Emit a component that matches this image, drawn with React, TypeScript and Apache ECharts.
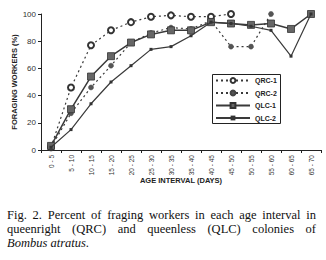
import React, { useEffect, useRef } from "react";
import * as echarts from "echarts";

const categories = ["0 - 5", "5 - 10", "10 - 15", "15 - 20", "20 - 25", "25 - 30", "30 - 35", "35 - 40", "40 - 45", "45 - 50", "50 - 55", "55 - 60", "60 - 65", "65 - 70"];
const qrc1 = [2, 46, 77, 88, 94, 98, 99, 98, 98, 100, null, null, null, null];
const qrc2 = [2, 27, 46, 62, 79, 86, 90, 89, 95, 76, 76, 100, null, null];
const qlc1 = [3, 30, 54, 69, 79, 85, 88, 88, 94, 93, 92, 93, 89, 100];
const qlc2 = [2, 15, 34, 50, 62, 74, 76, 84, 94, 93, 91, 88, 69, 100];
const yTicks = { min: 0, max: 100, interval: 20 };

const captionLine1 = "Fig. 2. Percent of fraging workers in each age interval in";
const captionLine2 = "queenright (QRC) and queenless (QLC) colonies of";
const captionItalic = "Bombus atratus";

const SANS = "'Liberation Sans', Arial, sans-serif";
const SERIF = "'Liberation Serif', 'Times New Roman', serif";
const CAPTION_FONT = `12.5px ${SERIF}`;

function justify(line: string, left: number, right: number, y: number) {
  const words = line.split(" ");
  const ctx = document.createElement("canvas").getContext("2d")!;
  ctx.font = CAPTION_FONT;
  const widths = words.map((w) => ctx.measureText(w).width);
  const total = widths.reduce((a, b) => a + b, 0);
  const gap = (right - left - total) / (words.length - 1);
  let x = left;
  return words.map((w, i) => {
    const el = {
      type: "text",
      x,
      y,
      style: { text: w, font: CAPTION_FONT, fill: "#111", verticalAlign: "middle" },
    };
    x += widths[i] + gap;
    return el;
  });
}

export default function App() {
  const ref = useRef<HTMLDivElement>(null);
  useEffect(() => {
    const chart = echarts.init(ref.current!, undefined, { renderer: "svg" });
    const lineColor = "#3a3a3a";
    chart.setOption({
      animation: false,
      backgroundColor: "#fff",
      grid: { left: 41, right: 5, top: 14, bottom: 110, outerBoundsMode: "none" },
      legend: {
        orient: "vertical",
        left: 213,
        top: 75,
        padding: [2, 4, 2, 2],
        itemGap: 5.5,
        itemWidth: 34,
        itemHeight: 6,
        textStyle: { fontFamily: SANS, fontSize: 7, fontWeight: "bold", color: "#222" },
        data: ["QRC-1", "QRC-2", "QLC-1", "QLC-2"],
      },
      xAxis: {
        type: "category",
        data: categories,
        boundaryGap: true,
        name: "AGE INTERVAL (DAYS)",
        nameLocation: "middle",
        nameGap: 26,
        nameMoveOverlap: false,
        nameTextStyle: { fontFamily: SANS, fontSize: 7.5, fontWeight: "bold", color: "#222" },
        axisLine: { lineStyle: { color: "#222", width: 1 } },
        axisTick: { show: true, length: 3, lineStyle: { color: "#222" } },
        axisLabel: { interval: 0, rotate: 90, fontFamily: SANS, fontSize: 6.5, color: "#333", margin: 5 },
        splitLine: { show: false },
      },
      yAxis: {
        type: "value",
        min: yTicks.min,
        max: yTicks.max,
        interval: yTicks.interval,
        name: "FORAGING WORKERS (%)",
        nameLocation: "middle",
        nameGap: 23,
        nameRotate: 90,
        nameMoveOverlap: false,
        nameTextStyle: { fontFamily: SANS, fontSize: 7.5, fontWeight: "bold", color: "#222" },
        axisLine: { show: true, lineStyle: { color: "#222", width: 1 } },
        axisTick: { show: true, length: 3, lineStyle: { color: "#222" } },
        axisLabel: { fontFamily: SANS, fontSize: 8, color: "#333", margin: 5 },
        splitLine: { show: false },
      },
      series: [
        {
          name: "QRC-1",
          type: "line",
          data: qrc1,
          symbol: "emptyCircle",
          symbolSize: 6,
          showAllSymbol: true,
          lineStyle: { color: lineColor, width: 1.2, type: [2, 3] },
          itemStyle: { color: "#333", borderColor: "#333", borderWidth: 1 },
          z: 2,
        },
        {
          name: "QRC-2",
          type: "line",
          data: qrc2,
          symbol: "circle",
          symbolSize: 5,
          showAllSymbol: true,
          lineStyle: { color: lineColor, width: 1.2, type: [2, 3] },
          itemStyle: { color: "#555", borderColor: "#444", borderWidth: 0.5 },
          z: 3,
        },
        {
          name: "QLC-1",
          type: "line",
          data: qlc1,
          symbol: "rect",
          symbolSize: 7,
          showAllSymbol: true,
          lineStyle: { color: lineColor, width: 1.5, type: "solid" },
          itemStyle: { color: "#666", borderColor: "#333", borderWidth: 0.8 },
          z: 4,
        },
        {
          name: "QLC-2",
          type: "line",
          data: qlc2,
          symbol: "rect",
          symbolSize: 3,
          showAllSymbol: true,
          lineStyle: { color: lineColor, width: 1.2, type: "solid" },
          itemStyle: { color: "#333", borderColor: "#333", borderWidth: 0 },
          z: 5,
        },
      ],
      graphic: [
        {
          type: "rect",
          shape: { x: 212.5, y: 74.5, width: 68, height: 49 },
          style: { fill: "none", stroke: "#222", lineWidth: 1 },
          z: 10,
        },
        ...justify(captionLine1, 7, 316, 215),
        ...justify(captionLine2, 7, 316, 229),
        {
          type: "text",
          x: 7,
          y: 243,
          style: {
            text: `{i|${captionItalic}}.`,
            font: CAPTION_FONT,
            fill: "#111",
            verticalAlign: "middle",
            rich: { i: { fontFamily: SERIF, fontSize: 12.5, fontStyle: "italic", color: "#111" } },
          },
        },
      ],
    });
    return () => chart.dispose();
  }, []);
  return <div ref={ref} style={{ position: "absolute", left: 0, top: 0, width: 326, height: 260 }} />;
}
